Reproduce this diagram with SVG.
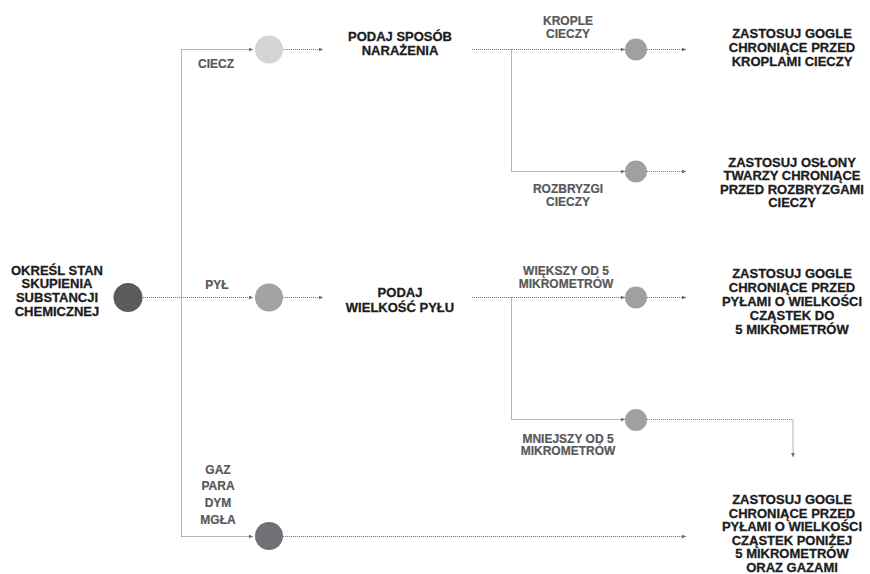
<svg xmlns="http://www.w3.org/2000/svg" width="870" height="574" viewBox="0 0 870 574">
<style>
.main{font-family:"Liberation Sans",Arial,sans-serif;font-weight:bold;font-size:13px;fill:#1c1c1e;stroke:#1c1c1e;stroke-width:0.3;text-anchor:middle}
.lbl{font-family:"Liberation Sans",Arial,sans-serif;font-weight:bold;font-size:12px;fill:#58585b;stroke:#58585b;stroke-width:0.2;text-anchor:middle}
.con{fill:none;stroke:#808083;stroke-width:1;stroke-dasharray:1.2 0.8}
</style>
<defs>
<marker id="arr" viewBox="0 0 4 4" refX="4" refY="2" markerWidth="4" markerHeight="4" markerUnits="userSpaceOnUse" orient="auto">
<path d="M0,0 L4,2 L0,4 z" fill="#707073"/>
</marker>
</defs>
<rect width="870" height="574" fill="#ffffff"/>
<g id="connectors">
<path class="con" d="M143 297.5 H253" marker-end="url(#arr)"/>
<path class="con" d="M181.5 49.5 V536.5"/>
<path class="con" d="M181.5 49.5 H253" marker-end="url(#arr)"/>
<path class="con" d="M181.5 536.5 H253" marker-end="url(#arr)"/>
<path class="con" d="M283 49.5 H323" marker-end="url(#arr)"/>
<path class="con" d="M472 49.5 H625" marker-end="url(#arr)"/>
<path class="con" d="M511.5 49.5 V171.5 H625" marker-end="url(#arr)"/>
<path class="con" d="M647 49.5 H686" marker-end="url(#arr)"/>
<path class="con" d="M647 171.5 H686" marker-end="url(#arr)"/>
<path class="con" d="M283 297.5 H323" marker-end="url(#arr)"/>
<path class="con" d="M472 297.5 H625" marker-end="url(#arr)"/>
<path class="con" d="M511.5 297.5 V419.5 H625" marker-end="url(#arr)"/>
<path class="con" d="M647 297.5 H686" marker-end="url(#arr)"/>
<path class="con" d="M647 419.5 H793 V457" marker-end="url(#arr)"/>
<path class="con" d="M283 536.5 H686" marker-end="url(#arr)"/>
</g>
<g id="root">
<circle cx="128" cy="297.5" r="14.5" fill="#5b5b5e"/>
<text class="main"><tspan x="57" y="274.5">OKREŚL STAN</tspan><tspan x="57" y="288">SKUPIENIA</tspan><tspan x="57" y="301.5">SUBSTANCJI</tspan><tspan x="57" y="315.5">CHEMICZNEJ</tspan></text>
</g>
<g id="ciecz">
<circle cx="269" cy="49.5" r="14" fill="#d4d4d6"/>
<text class="lbl" x="216" y="67.5">CIECZ</text>
</g>
<g id="pyl">
<circle cx="269" cy="297.5" r="14" fill="#a3a3a6"/>
<text class="lbl" x="217" y="289">PYŁ</text>
</g>
<g id="gaz">
<circle cx="269" cy="536" r="14" fill="#717175"/>
<text class="lbl"><tspan x="218" y="473.5">GAZ</tspan><tspan x="218" y="490">PARA</tspan><tspan x="218" y="507">DYM</tspan><tspan x="218" y="523.5">MGŁA</tspan></text>
</g>
<g id="sposob">
<text class="main"><tspan x="400" y="40.5">PODAJ SPOSÓB</tspan><tspan x="400" y="55">NARAŻENIA</tspan></text>
</g>
<g id="wielkosc">
<text class="main"><tspan x="400" y="297">PODAJ</tspan><tspan x="400" y="311.5">WIELKOŚĆ PYŁU</tspan></text>
</g>
<g id="krople">
<circle cx="636" cy="49.5" r="11" fill="#a0a0a3"/>
<text class="lbl"><tspan x="568" y="25">KROPLE</tspan><tspan x="568" y="38">CIECZY</tspan></text>
</g>
<g id="rozbryzgi">
<circle cx="636" cy="171.5" r="11" fill="#a0a0a3"/>
<text class="lbl"><tspan x="568" y="192.5">ROZBRYZGI</tspan><tspan x="568" y="206">CIECZY</tspan></text>
</g>
<g id="wiekszy">
<circle cx="636" cy="297.5" r="11" fill="#a0a0a3"/>
<text class="lbl"><tspan x="566" y="275">WIĘKSZY OD 5</tspan><tspan x="566" y="288">MIKROMETRÓW</tspan></text>
</g>
<g id="mniejszy">
<circle cx="636" cy="420" r="11" fill="#a0a0a3"/>
<text class="lbl"><tspan x="568" y="442.5">MNIEJSZY OD 5</tspan><tspan x="568" y="455">MIKROMETRÓW</tspan></text>
</g>
<g id="gogle-krople">
<text class="main"><tspan x="792" y="38">ZASTOSUJ GOGLE</tspan><tspan x="792" y="52">CHRONIĄCE PRZED</tspan><tspan x="792" y="66">KROPLAMI CIECZY</tspan></text>
</g>
<g id="oslony">
<text class="main"><tspan x="792" y="166.5">ZASTOSUJ OSŁONY</tspan><tspan x="792" y="180">TWARZY CHRONIĄCE</tspan><tspan x="792" y="193.5">PRZED ROZBRYZGAMI</tspan><tspan x="792" y="207">CIECZY</tspan></text>
</g>
<g id="gogle-pyl-do5">
<text class="main"><tspan x="792" y="278">ZASTOSUJ GOGLE</tspan><tspan x="792" y="292">CHRONIĄCE PRZED</tspan><tspan x="792" y="306">PYŁAMI O WIELKOŚCI</tspan><tspan x="792" y="320">CZĄSTEK DO</tspan><tspan x="792" y="334">5 MIKROMETRÓW</tspan></text>
</g>
<g id="gogle-pyl-ponizej5">
<text class="main"><tspan x="792" y="504">ZASTOSUJ GOGLE</tspan><tspan x="792" y="517.5">CHRONIĄCE PRZED</tspan><tspan x="792" y="531">PYŁAMI O WIELKOŚCI</tspan><tspan x="792" y="544.5">CZĄSTEK PONIŻEJ</tspan><tspan x="792" y="558">5 MIKROMETRÓW</tspan><tspan x="792" y="571.5">ORAZ GAZAMI</tspan></text>
</g>
</svg>
